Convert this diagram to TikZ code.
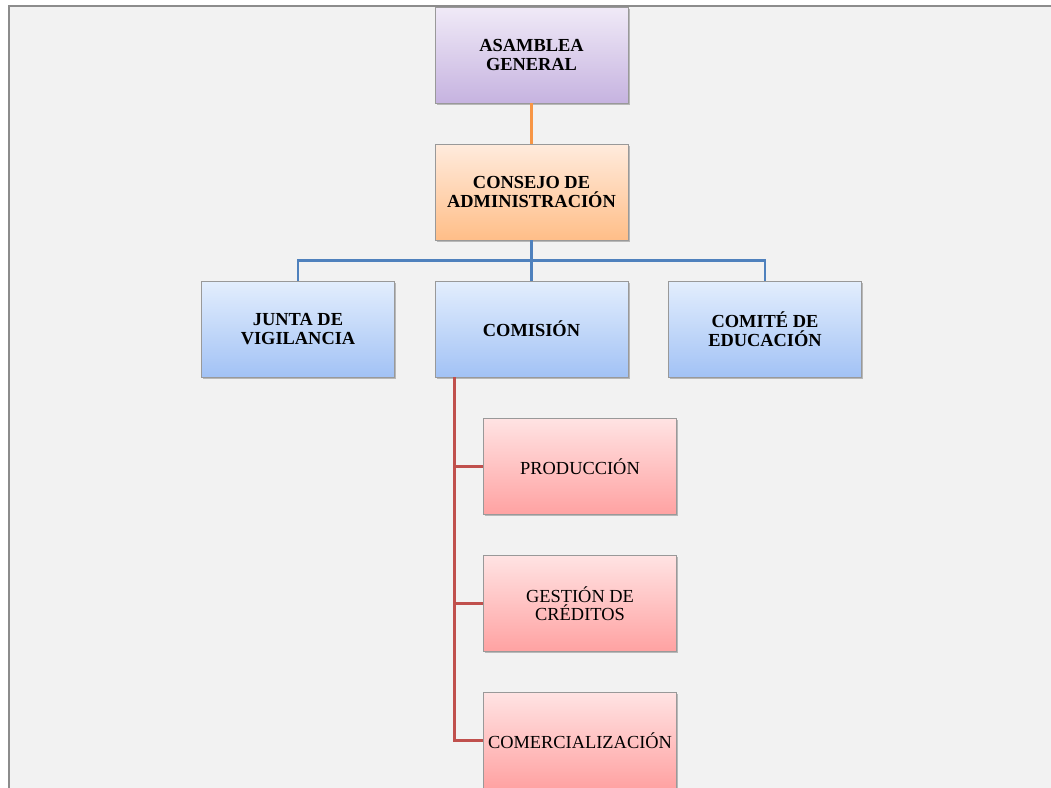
\documentclass[tikz,border=0pt]{standalone}
\usepackage{fontspec}
\setmainfont{Liberation Serif}
\usetikzlibrary{shadows}
\definecolor{bgfill}{HTML}{F2F2F2}
\definecolor{framec}{HTML}{8C8C8C}
\definecolor{purpT}{HTML}{F0EAF7}
\definecolor{purpB}{HTML}{C6B3E0}
\definecolor{oranT}{HTML}{FFEBDD}
\definecolor{oranB}{HTML}{FFBE88}
\definecolor{blueT}{HTML}{E3EEFD}
\definecolor{blueB}{HTML}{A2C2F5}
\definecolor{redT}{HTML}{FFE3E3}
\definecolor{redB}{HTML}{FFA2A2}
\definecolor{lnOran}{HTML}{F79646}
\definecolor{lnBlue}{HTML}{4F81BD}
\definecolor{lnRed}{HTML}{C0504D}
\tikzset{
  orgbox/.style={draw=black!40, line width=0.6pt, minimum width=193pt, minimum height=96pt,
    inner sep=0pt, align=center, font=\fontsize{18.4}{18.5}\selectfont,
    drop shadow={shadow xshift=1.5pt, shadow yshift=-1.5pt, opacity=0.35, fill=black!70}},
  boldbox/.style={orgbox, font=\fontsize{18.4}{18.5}\selectfont\bfseries},
  purplebox/.style={boldbox, top color=purpT, bottom color=purpB},
  orangebox/.style={boldbox, top color=oranT, bottom color=oranB},
  bluebox/.style={boldbox, top color=blueT, bottom color=blueB},
  redbox/.style={orgbox, top color=redT, bottom color=redB},
  conn/.style={line width=2.7pt},
}
\begin{document}
\begin{tikzpicture}[x=1pt, y=-1pt]
\useasboundingbox (0,0) rectangle (1051,787);
\fill[white] (0,0) rectangle (1051,787);
\draw[framec, line width=2pt, fill=bgfill] (9,6) rectangle (1070,810);

\node[purplebox] (asamblea) at (531.5,55) {ASAMBLEA\\GENERAL};
\node[orangebox] (consejo) at (531.5,192) {CONSEJO DE\\ADMINISTRACIÓN};
\node[bluebox] (junta) at (298,329) {JUNTA DE\\VIGILANCIA};
\node[bluebox] (comision) at (531.5,329) {COMISIÓN};
\node[bluebox] (comite) at (765,329) {COMITÉ DE\\EDUCACIÓN};
\node[redbox] (prod) at (580,466.5) {PRODUCCIÓN};
\node[redbox] (gest) at (580,603.5) {GESTIÓN DE\\CRÉDITOS};
\node[redbox] (comer) at (580,740.5) {COMERCIALIZACIÓN};

\draw[conn, lnOran] (asamblea.south) -- (consejo.south |- consejo.north);
\coordinate (bus) at ([yshift=-20.5pt]consejo.south);
\draw[conn, lnBlue] (consejo.south) -- (comision.north);
\draw[conn, lnBlue, line join=miter] (junta.north) |- (bus) -| (comite.north);
\coordinate (rtop) at ([xshift=20pt]comision.south west);
\draw[conn, lnRed] (rtop) |- (prod.west);
\draw[conn, lnRed] (rtop) |- (gest.west);
\draw[conn, lnRed, line join=miter] (rtop) |- (comer.west);
\end{tikzpicture}
\end{document}
